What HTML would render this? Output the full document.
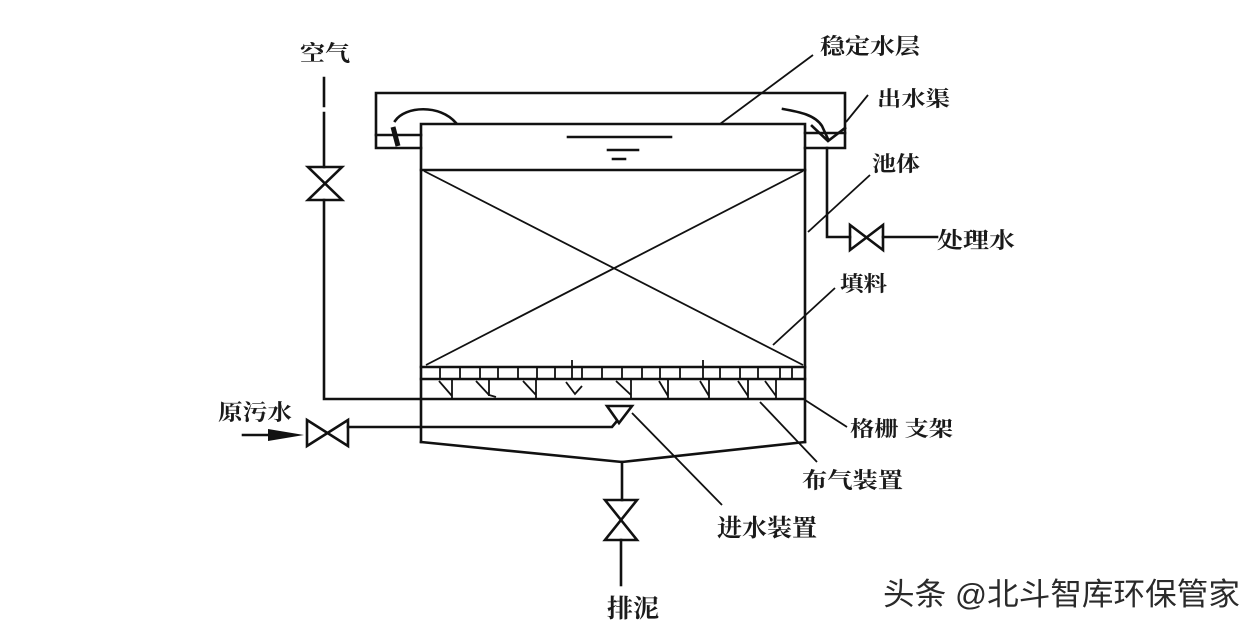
<!DOCTYPE html>
<html>
<head>
<meta charset="utf-8">
<style>
  html,body{margin:0;padding:0;background:#fff;}
  svg{display:block;}
  .l{stroke:#111;stroke-width:2.6;fill:none;stroke-linecap:square;}
  .t{stroke:#111;stroke-width:1.8;fill:none;}
  .lab{font-family:"Liberation Serif","Noto Serif CJK SC",serif;font-weight:bold;fill:#1a1a1a;}
</style>
</head>
<body>
<svg width="1260" height="626" viewBox="0 0 1260 626" xmlns="http://www.w3.org/2000/svg">
  <rect width="1260" height="626" fill="#fff"/>

  <!-- Air pipe -->
  <path class="l" d="M324,78 L324,106 M324,113 L324,167"/>
  <path class="l" d="M308,167 L342,167 L308,200 L342,200 Z" stroke-linejoin="miter"/>
  <path class="l" d="M324,200 L324,399 L804,399"/>

  <!-- Trough -->
  <path class="l" d="M421,148 L376,148 L376,93 L845,93 L845,148 L805,148"/>
  <path class="l" d="M376,135 L421,135 M805,133 L845,133"/>
  <!-- weirs -->
  <path class="l" d="M395,121 C405,106 440,104 456,123"/>
  <path d="M393,127 L398,146" stroke="#111" stroke-width="5" fill="none"/>
  <path class="l" d="M783,109 C800,112 815,115 822,126 L828,139 M812,126 L828,141 L845,128"/>

  <!-- Tank -->
  <path class="l" d="M421,442 L421,124 L805,124 L805,442"/>
  <!-- water level symbol -->
  <path class="l" d="M568,137 L671,137 M608,150 L638,150 M613,159 L625,159"/>
  <!-- packing -->
  <path class="l" d="M421,170 L805,170 M421,367 L805,367 M421,379 L805,379"/>
  <path class="t" d="M424,171 L803,365 M803,171 L426,365"/>
  <!-- grid ticks -->
  <path class="t" d="M440,367 L440,379 M460,367 L460,379 M480,367 L480,379 M498,367 L498,379 M518,367 L518,379 M537,367 L537,379 M555,367 L555,379 M572,360 L572,379 M582,367 L582,379 M602,367 L602,379 M622,367 L622,379 M642,367 L642,379 M660,367 L660,379 M680,367 L680,379 M703,360 L703,379 M720,367 L720,379 M740,367 L740,379 M758,367 L758,379 M780,367 L780,379 M792,367 L792,379"/>
  <!-- diffusers -->
  <path class="t" stroke-width="2.2" d="
    M439,381 L452,396 M452,380 L452,399
    M476,381 L489,395 L496,397 M489,380 L489,396
    M523,381 L536,395 M536,380 L536,399
    M566,382 L575,394 L582,386
    M616,381 L631,395 M631,380 L631,399
    M659,381 L668,396 M668,380 L668,399
    M700,381 L709,396 M709,380 L709,399
    M738,381 L748,396 M748,380 L748,399
    M765,381 L776,396 M776,380 L776,399"/>

  <!-- cone bottom -->
  <path class="l" d="M421,442 L622,462 L805,442"/>

  <!-- inlet -->
  <path class="l" d="M243,435 L272,435"/>
  <polygon points="268,429 304,435 268,441" fill="#111"/>
  <path class="l" d="M307,420 L307,446 L348,420 L348,446 Z"/>
  <path class="l" d="M348,427 L612,427 L617,421"/>
  <path class="l" d="M607,406 L632,406 L619,423 Z"/>

  <!-- drain -->
  <path class="l" d="M622,462 L622,500"/>
  <path class="l" d="M605,500 L637,500 L605,540 L637,540 Z"/>
  <path class="l" d="M621,540 L621,585"/>

  <!-- outlet -->
  <path class="l" d="M827,148 L827,237 L850,237"/>
  <path class="l" d="M850,225 L850,250 L883,225 L883,250 Z"/>
  <path class="l" d="M883,237 L937,237"/>

  <!-- leaders -->
  <path class="t" d="M813,55 L720,124"/>
  <path class="t" d="M868,95 L846,122"/>
  <path class="t" d="M870,175 L808,232"/>
  <path class="t" d="M835,288 L773,345"/>
  <path class="t" d="M805,400 L847,427"/>
  <path class="t" d="M760,402 L817,462"/>
  <path class="t" d="M632,413 L722,505"/>

  <!-- labels -->
  <text class="lab" x="300" y="61" font-size="22" textLength="50" lengthAdjust="spacingAndGlyphs">空气</text>
  <text class="lab" x="820" y="54" font-size="22" textLength="100" lengthAdjust="spacingAndGlyphs">稳定水层</text>
  <text class="lab" x="877" y="106" font-size="21" textLength="73" lengthAdjust="spacingAndGlyphs">出水渠</text>
  <text class="lab" x="872" y="171" font-size="21" textLength="48" lengthAdjust="spacingAndGlyphs">池体</text>
  <text class="lab" x="937" y="248" font-size="22" textLength="78" lengthAdjust="spacingAndGlyphs">处理水</text>
  <text class="lab" x="840" y="291" font-size="21" textLength="47" lengthAdjust="spacingAndGlyphs">填料</text>
  <text class="lab" x="850" y="436" font-size="21" textLength="103" lengthAdjust="spacingAndGlyphs">格栅 支架</text>
  <text class="lab" x="802" y="488" font-size="22" textLength="101" lengthAdjust="spacingAndGlyphs">布气装置</text>
  <text class="lab" x="717" y="536" font-size="24" textLength="100" lengthAdjust="spacingAndGlyphs">进水装置</text>
  <text class="lab" x="218" y="420" font-size="22" textLength="74" lengthAdjust="spacingAndGlyphs">原污水</text>
  <text class="lab" x="607" y="617" font-size="25" textLength="52" lengthAdjust="spacingAndGlyphs">排泥</text>

  <!-- watermark -->
  <text x="883" y="605" font-size="31" font-family="'Liberation Sans','Noto Sans CJK SC',sans-serif" fill="#2a2a2a" textLength="357" lengthAdjust="spacingAndGlyphs">头条 @北斗智库环保管家</text>
</svg>
</body>
</html>
